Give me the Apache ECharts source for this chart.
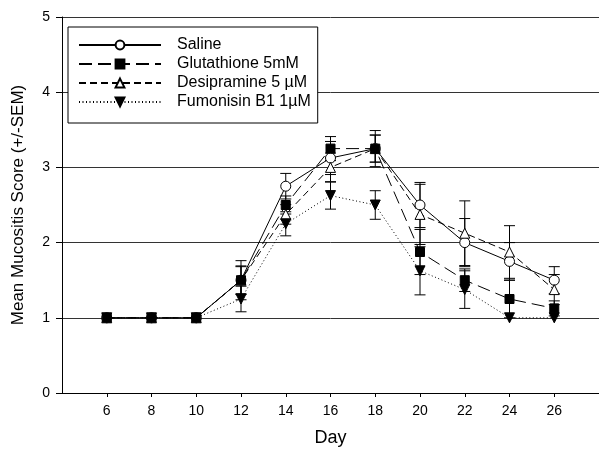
<!DOCTYPE html>
<html>
<head>
<meta charset="utf-8">
<script src="https://cdn.jsdelivr.net/npm/echarts@6/dist/echarts.min.js"></script>
<style>html,body{margin:0;padding:0;background:#fff}#c{width:599px;height:450px}</style>
</head>
<body>
<div id="c"></div>
<script>
const days = [6, 8, 10, 12, 14, 16, 18, 20, 22, 24, 26];
const xTicks = [6, 8, 10, 12, 14, 16, 18, 20, 22, 24, 26];
const yTicks = [0, 1, 2, 3, 4, 5];

const saline    = [1, 1, 1, 1.5, 2.75, 3.125, 3.25, 2.5, 2.0, 1.75, 1.5];
const salineSem = [0, 0, 0, 0.26, 0.17, 0.22, 0.24, 0.3, 0.32, 0.25, 0.18];
const glut      = [1, 1, 1, 1.5, 2.5, 3.25, 3.25, 1.875, 1.5, 1.25, 1.125];
const glutSem   = [0, 0, 0, 0.19, 0.12, 0.16, 0.18, 0.3, 0.15, 0.25, 0.1];
const desip     = [1, 1, 1, 1.5, 2.375, 3.0, 3.25, 2.375, 2.125, 1.875, 1.375];
const desipSem  = [0, 0, 0, 0.18, 0.13, 0.19, 0.18, 0.4, 0.43, 0.35, 0.2];
const fumon     = [1, 1, 1, 1.25, 2.25, 2.625, 2.5, 1.625, 1.375, 1.0, 1.0];
const fumonSem  = [0, 0, 0, 0.17, 0.16, 0.18, 0.19, 0.32, 0.25, 0, 0];

const names = ['Saline', 'Glutathione 5mM', 'Desipramine 5 \u00B5M', 'Fumonisin B1 1\u00B5M'];
const FONT = '"Liberation Sans", Arial, sans-serif';

function pts(vals) { return days.map((d, i) => [d, vals[i]]); }
function errData(vals, sems) {
  const out = [];
  days.forEach((d, i) => { if (sems[i] > 0) out.push([d, vals[i] - sems[i], vals[i] + sems[i]]); });
  return out;
}
function renderErr(params, api) {
  const x = api.value(0), lo = api.value(1), hi = api.value(2);
  const a = api.coord([x, hi]), b = api.coord([x, lo]);
  const w = 5.5, st = { stroke: '#000', lineWidth: 1, fill: null };
  return { type: 'group', children: [
    { type: 'line', shape: { x1: a[0], y1: a[1], x2: b[0], y2: b[1] }, style: st },
    { type: 'line', shape: { x1: a[0] - w, y1: a[1], x2: a[0] + w, y2: a[1] }, style: st },
    { type: 'line', shape: { x1: b[0] - w, y1: b[1], x2: b[0] + w, y2: b[1] }, style: st }
  ]};
}
function errSeries(vals, sems) {
  return { type: 'custom', renderItem: renderErr, data: errData(vals, sems),
    encode: { x: 0, y: [1, 2] }, z: 1, silent: true };
}

const chart = echarts.init(document.getElementById('c'), null, { renderer: 'canvas' });
chart.setOption({
  animation: false,
  backgroundColor: '#fff',
  textStyle: { fontFamily: FONT },
  grid: { left: 62, right: 0, top: 17, bottom: 57, containLabel: false, outerBoundsMode: 'none' },
  legend: {
    orient: 'vertical', left: 68, top: 27,
    data: names,
    itemWidth: 82, itemHeight: 11, itemGap: 3,
    padding: [10, 7, 13, 10],
    borderColor: '#000', borderWidth: 1, backgroundColor: '#fff',
    textStyle: { fontSize: 16, color: '#000', fontFamily: FONT, padding: [0, 0, 0, 11] }
  },
  xAxis: {
    type: 'value', min: 4, max: 28, interval: 2,
    name: 'Day', nameLocation: 'middle', nameGap: 36,
    nameTextStyle: { fontSize: 18, color: '#000', fontFamily: FONT },
    axisLine: { lineStyle: { color: '#000', width: 1 } },
    axisTick: { show: true, length: 4, lineStyle: { color: '#000' }, customValues: xTicks },
    axisLabel: { fontSize: 14, color: '#000', margin: 11, customValues: xTicks },
    splitLine: { show: false }
  },
  yAxis: {
    type: 'value', min: 0, max: 5, interval: 1,
    name: 'Mean Mucositis Score (+/-SEM)', nameLocation: 'middle', nameGap: 35,
    nameTextStyle: { fontSize: 17, color: '#000', fontFamily: FONT },
    axisLine: { show: true, lineStyle: { color: '#000', width: 1 } },
    axisTick: { show: true, length: 6, lineStyle: { color: '#000' }, customValues: yTicks },
    axisLabel: { fontSize: 14, color: '#000', margin: 12, customValues: yTicks },
    splitLine: { show: true, lineStyle: { color: '#333', width: 1 } }
  },
  series: [
    errSeries(saline, salineSem),
    errSeries(glut, glutSem),
    errSeries(desip, desipSem),
    errSeries(fumon, fumonSem),
    { name: names[0], type: 'line', data: pts(saline), symbol: 'circle', symbolSize: 10, z: 3,
      lineStyle: { color: '#000', width: 1, type: 'solid' },
      itemStyle: { color: '#fff', borderColor: '#000', borderWidth: 1 } },
    { name: names[2], type: 'line', data: pts(desip), symbol: 'triangle', symbolSize: 10, z: 3,
      lineStyle: { color: '#000', width: 1, type: [7, 4] },
      itemStyle: { color: '#fff', borderColor: '#000', borderWidth: 1 } },
    { name: names[1], type: 'line', data: pts(glut), symbol: 'rect', symbolSize: 9, z: 4,
      lineStyle: { color: '#000', width: 1, type: [13, 6] },
      itemStyle: { color: '#000', borderColor: '#000', borderWidth: 1 } },
    { name: names[3], type: 'line', data: pts(fumon), symbol: 'triangle', symbolRotate: 180, symbolSize: 10, z: 4,
      lineStyle: { color: '#000', width: 1, type: [1, 2.5] },
      itemStyle: { color: '#000', borderColor: '#000', borderWidth: 1 } }
  ]
});
</script>
</body>
</html>
